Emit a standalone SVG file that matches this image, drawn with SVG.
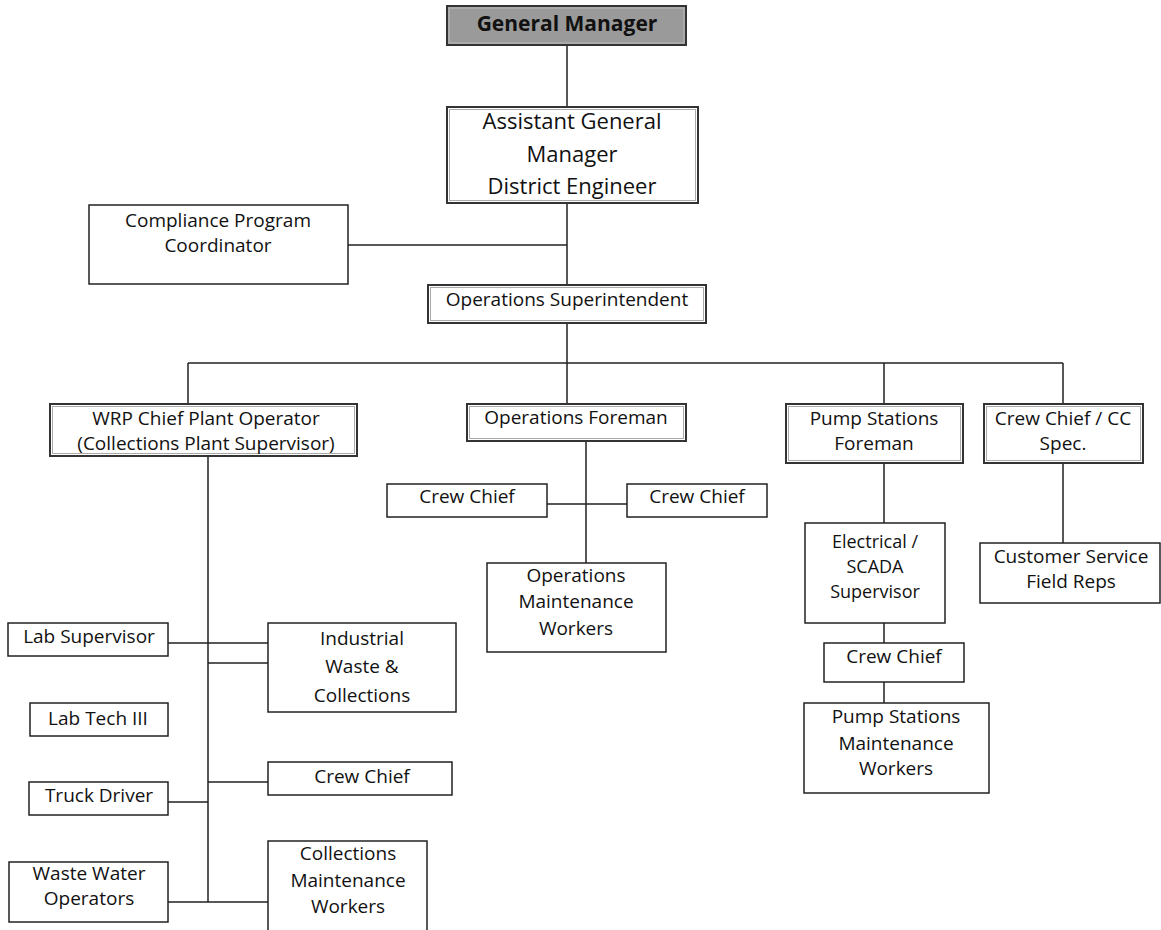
<svg xmlns="http://www.w3.org/2000/svg" width="1161" height="930" viewBox="0 0 1161 930">
<style>
.b{fill:#fff;stroke:#222;stroke-width:1.5}
.d{fill:#fff;stroke:#333;stroke-width:2}
.i{fill:none;stroke:#aaa;stroke-width:1}
.t{font-family:"Open Sans","Liberation Sans",sans-serif;font-size:19px;fill:#111;text-anchor:middle}
.l{font-size:22px}
.s{font-size:18px}
.g{font-weight:bold;font-size:21px}
.c{stroke:#222;stroke-width:1.5;fill:none}
</style>
<rect width="1161" height="930" fill="#fff"/>
<g id="connectors">
<path class="c" d="M567,45V287M348,245H567M567,323V363M188,363H1063M188,363V404M567,363V404M884,363V404M1063,363V404"/>
<path class="c" d="M586,441V565M547,504H627"/>
<path class="c" d="M884,463V523M884,623V643M884,682V703M1063,463V543"/>
<path class="c" d="M208,456V902M168,643H268M208,663H268M208,782H268M168,802H208M168,902H268"/>
</g>
<g id="gm"><rect x="447" y="6" width="239" height="39" fill="#9a9a9a" stroke="#333" stroke-width="2"/><rect x="449" y="8" width="235" height="35" fill="none" stroke="#bbb" stroke-width="1"/><text class="t g" x="567" y="31">General Manager</text></g>
<g id="agm"><rect class="d" x="447" y="107" width="251" height="96"/><rect class="i" x="449.5" y="109.5" width="246" height="91"/><text class="t l" x="572" y="129">Assistant General</text><text class="t l" x="572" y="162">Manager</text><text class="t l" x="572" y="194">District Engineer</text></g>
<g id="compliance"><rect class="b" x="89" y="205" width="259" height="79"/><text class="t" x="218" y="227">Compliance Program</text><text class="t" x="218" y="252">Coordinator</text></g>
<g id="opsupt"><rect class="d" x="428" y="285" width="278" height="38"/><rect class="i" x="430.5" y="287.5" width="273" height="33"/><text class="t" x="567" y="306">Operations Superintendent</text></g>
<g id="wrp"><rect class="d" x="50" y="404" width="307" height="52"/><rect class="i" x="52.5" y="406.5" width="302" height="47"/><text class="t" x="206" y="425">WRP Chief Plant Operator</text><text class="t" x="206" y="450">(Collections Plant Supervisor)</text></g>
<g id="opforeman"><rect class="d" x="467" y="404" width="219" height="37"/><rect class="i" x="469.5" y="406.5" width="214" height="32"/><text class="t" x="576" y="424">Operations Foreman</text></g>
<g id="psforeman"><rect class="d" x="786" y="404" width="177" height="59"/><rect class="i" x="788.5" y="406.5" width="172" height="54"/><text class="t" x="874" y="425">Pump Stations</text><text class="t" x="874" y="450">Foreman</text></g>
<g id="ccspec"><rect class="d" x="984" y="404" width="159" height="59"/><rect class="i" x="986.5" y="406.5" width="154" height="54"/><text class="t" x="1063" y="425">Crew Chief / CC</text><text class="t" x="1063" y="450">Spec.</text></g>
<g id="crewchief1"><rect class="b" x="387" y="484" width="160" height="33"/><text class="t" x="467" y="503">Crew Chief</text></g>
<g id="crewchief2"><rect class="b" x="627" y="484" width="140" height="33"/><text class="t" x="697" y="503">Crew Chief</text></g>
<g id="opsmaint"><rect class="b" x="487" y="563" width="179" height="89"/><text class="t" x="576" y="582">Operations</text><text class="t" x="576" y="608">Maintenance</text><text class="t" x="576" y="635">Workers</text></g>
<g id="scada"><rect class="b" x="805" y="523" width="140" height="100"/><text class="t s" x="875" y="548">Electrical /</text><text class="t s" x="875" y="573">SCADA</text><text class="t s" x="875" y="598">Supervisor</text></g>
<g id="custsvc"><rect class="b" x="980" y="543" width="180" height="60"/><text class="t" x="1071" y="563">Customer Service</text><text class="t" x="1071" y="588">Field Reps</text></g>
<g id="crewchief3"><rect class="b" x="824" y="643" width="140" height="39"/><text class="t" x="894" y="663">Crew Chief</text></g>
<g id="psmaint"><rect class="b" x="804" y="703" width="185" height="90"/><text class="t" x="896" y="723">Pump Stations</text><text class="t" x="896" y="750">Maintenance</text><text class="t" x="896" y="775">Workers</text></g>
<g id="labsup"><rect class="b" x="8" y="623" width="160" height="33"/><text class="t" x="89" y="643">Lab Supervisor</text></g>
<g id="industrial"><rect class="b" x="268" y="623" width="188" height="89"/><text class="t" x="362" y="645">Industrial</text><text class="t" x="362" y="673">Waste &amp;</text><text class="t" x="362" y="702">Collections</text></g>
<g id="labtech"><rect class="b" x="30" y="703" width="138" height="33"/><text class="t" x="98" y="725">Lab Tech III</text></g>
<g id="crewchief4"><rect class="b" x="268" y="762" width="184" height="33"/><text class="t" x="362" y="783">Crew Chief</text></g>
<g id="truck"><rect class="b" x="29" y="782" width="139" height="33"/><text class="t" x="99" y="802">Truck Driver</text></g>
<g id="wwo"><rect class="b" x="9" y="862" width="159" height="60"/><text class="t" x="89" y="880">Waste Water</text><text class="t" x="89" y="905">Operators</text></g>
<g id="collmaint"><rect class="b" x="268" y="841" width="159" height="100"/><text class="t" x="348" y="860">Collections</text><text class="t" x="348" y="887">Maintenance</text><text class="t" x="348" y="913">Workers</text></g>
</svg>
